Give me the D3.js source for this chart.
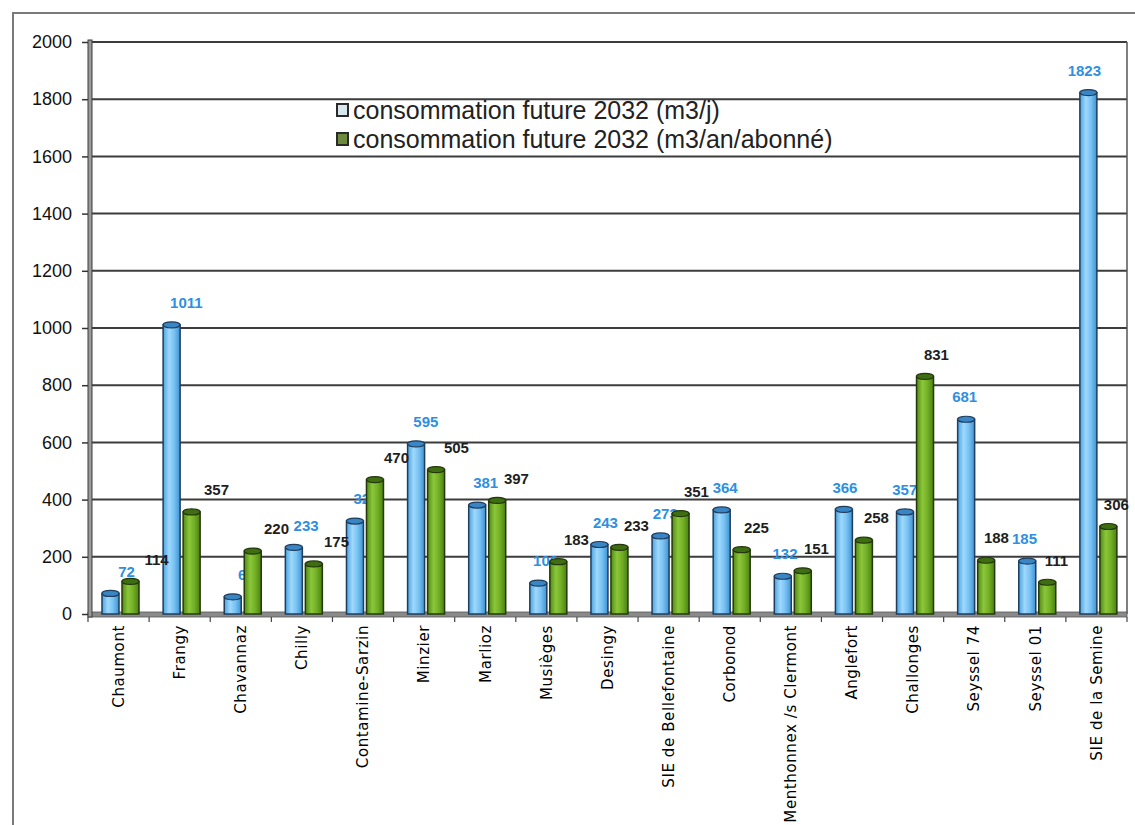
<!DOCTYPE html>
<html>
<head>
<meta charset="utf-8">
<script src="https://cdn.jsdelivr.net/npm/d3@7"></script>
<style>
  html, body { margin: 0; padding: 0; background: #ffffff; }
  svg { display: block; }
</style>
</head>
<body>
<svg id="chart" width="1135" height="825"></svg>
<script>
// Communes / syndicats
const categories = [
  "Chaumont", "Frangy", "Chavannaz", "Chilly", "Contamine-Sarzin", "Minzier",
  "Marlioz", "Musièges", "Desingy", "SIE de Bellefontaine", "Corbonod",
  "Menthonnex /s Clermont", "Anglefort", "Challonges", "Seyssel 74",
  "Seyssel 01", "SIE de la Semine"
];
// consommation future 2032 (m3/j)
const dailyValues = [72, 1011, 60, 233, 325, 595, 381, 108, 243, 273, 364, 132, 366, 357, 681, 185, 1823];
// consommation future 2032 (m3/an/abonné)
const perSubscriberValues = [114, 357, 220, 175, 470, 505, 397, 183, 233, 351, 225, 151, 258, 831, 188, 111, 306];

const seriesNames = [
  "consommation future 2032 (m3/j)",
  "consommation future 2032 (m3/an/abonné)"
];
const yTicks = [0, 200, 400, 600, 800, 1000, 1200, 1400, 1600, 1800, 2000];

const svg = d3.select("#chart");
const defs = svg.append("defs");

// Cylinder-like shading for the two series
function shade(id, stops) {
  const g = defs.append("linearGradient").attr("id", id)
    .attr("x1", "0%").attr("x2", "100%").attr("y1", "0%").attr("y2", "0%");
  stops.forEach(([o, c]) => g.append("stop").attr("offset", o).attr("stop-color", c));
}
shade("gBlue", [["0%", "#4aa4e0"], ["35%", "#9fd8fb"], ["65%", "#78c2f4"], ["100%", "#3d92d2"]]);
shade("gGreen", [["0%", "#4f8a14"], ["35%", "#8cc63a"], ["65%", "#73b026"], ["100%", "#4a8012"]]);

// Label offsets follow the chart's perspective: larger on the left, smaller on the right
const series = [
  { key: "d", values: dailyValues, fill: "url(#gBlue)", stroke: "#1f3d5c", cap: "#3a86c4", label: "#2f8fe0",
    dx: i => 16 - 20 * i / 16 },
  { key: "a", values: perSubscriberValues, fill: "url(#gGreen)", stroke: "#24380c", cap: "#3f6e12", label: "#1e1e1e",
    dx: i => 26 - 18 * i / 16 }
];

const sans = "'Liberation Sans', Arial, sans-serif";

// Outer frame
svg.append("rect")
  .attr("x", 13).attr("y", 13).attr("width", 1135).attr("height", 840)
  .attr("fill", "none").attr("stroke", "#7a7a7a").attr("stroke-width", 2);

const plotLeft = 88, plotRight = 1127, plotTop = 42, plotBottom = 614;

const y = d3.scaleLinear().domain([0, 2000]).range([plotBottom, plotTop]);
const x = d3.scaleBand().domain(categories).range([plotLeft, plotRight]).padding(0);
const x1 = d3.scaleBand().domain(series.map(s => s.key)).range([14, 51]).paddingInner(0.15);

// Gridlines
svg.append("g").selectAll("line").data(yTicks.filter(v => v > 0)).join("line")
  .attr("x1", plotLeft + 4).attr("x2", plotRight)
  .attr("y1", d => y(d)).attr("y2", d => y(d))
  .attr("stroke", "#3c3c3c").attr("stroke-width", 2);

// Back wall right edge
svg.append("line")
  .attr("x1", plotRight).attr("x2", plotRight).attr("y1", plotTop).attr("y2", plotBottom)
  .attr("stroke", "#555").attr("stroke-width", 1.5);

// Floor
svg.append("rect")
  .attr("x", plotLeft).attr("y", plotBottom - 2).attr("width", plotRight - plotLeft).attr("height", 5)
  .attr("fill", "#8a8a8a").attr("stroke", "#555").attr("stroke-width", 0.8);

// Left wall
svg.append("rect")
  .attr("x", plotLeft).attr("y", plotTop - 2).attr("width", 4).attr("height", plotBottom - plotTop + 5)
  .attr("fill", "#9a9a9a").attr("stroke", "#3a3a3a").attr("stroke-width", 1);

// Y axis
const yAxis = d3.axisLeft(y).tickValues(yTicks).tickSize(6).tickPadding(10).tickFormat(d3.format("d"));
const gy = svg.append("g").attr("transform", `translate(${plotLeft},0)`).call(yAxis);
gy.select(".domain").remove();
gy.selectAll(".tick line").attr("stroke", "#333").attr("stroke-width", 1.5);
gy.selectAll(".tick text")
  .attr("fill", "#111")
  .style("font-family", sans)
  .style("font-size", "18px");

// X axis (category ticks between bands, rotated labels)
const xAxis = d3.axisBottom(x).tickSize(0).tickPadding(0);
const gx = svg.append("g").attr("transform", `translate(0,${plotBottom + 3})`).call(xAxis);
gx.select(".domain").remove();
gx.selectAll(".tick text")
  .attr("transform", "rotate(-90)")
  .attr("x", -8).attr("y", 0).attr("dy", "0.35em")
  .attr("text-anchor", "end")
  .attr("fill", "#000")
  .style("font-family", "'DejaVu Sans', sans-serif")
  .style("font-size", "15px")
  .style("letter-spacing", "0.6px");
svg.append("g").selectAll("line").data(d3.range(categories.length + 1)).join("line")
  .attr("x1", i => plotLeft + i * x.step()).attr("x2", i => plotLeft + i * x.step())
  .attr("y1", plotBottom + 3).attr("y2", plotBottom + 8)
  .attr("stroke", "#444").attr("stroke-width", 1.2);

// Bars
const plot = svg.append("g");
series.forEach(s => {
  const g = plot.append("g");
  const bw = x1.bandwidth();
  const data = categories.map((c, i) => ({ c, i, v: s.values[i] }));
  g.selectAll("rect").data(data).join("rect")
    .attr("x", d => x(d.c) + x1(s.key))
    .attr("y", d => y(d.v))
    .attr("width", bw)
    .attr("height", d => y(0) - y(d.v))
    .attr("fill", s.fill)
    .attr("stroke", s.stroke)
    .attr("stroke-width", 1.5);
  g.selectAll("ellipse").data(data).join("ellipse")
    .attr("cx", d => x(d.c) + x1(s.key) + bw / 2)
    .attr("cy", d => y(d.v))
    .attr("rx", bw / 2)
    .attr("ry", 3)
    .attr("fill", s.cap)
    .attr("stroke", s.stroke)
    .attr("stroke-width", 1.2);
  g.selectAll("text").data(data).join("text")
    .attr("x", d => x(d.c) + x1(s.key) + bw / 2 + s.dx(d.i))
    .attr("y", d => y(d.v) - 22)
    .attr("dy", "0.35em")
    .attr("text-anchor", "middle")
    .attr("fill", s.label)
    .style("font-family", sans)
    .style("font-size", "15px")
    .style("font-weight", "bold")
    .text(d => d.v);
});

// Legend
const legend = svg.append("g").attr("transform", "translate(337,104)");
const swatches = ["#d8e6ee", "#6e8a3c"];
seriesNames.forEach((name, i) => {
  const row = legend.append("g").attr("transform", `translate(0,${i * 29})`);
  row.append("rect").attr("x", 0).attr("y", 0).attr("width", 11).attr("height", 12)
    .attr("fill", swatches[i]).attr("stroke", "#2a2a2a").attr("stroke-width", 2);
  row.append("text").attr("x", 16).attr("y", 6).attr("dy", "0.35em")
    .attr("fill", "#222")
    .style("font-family", sans)
    .style("font-size", "25px")
    .text(name);
});
</script>
</body>
</html>
